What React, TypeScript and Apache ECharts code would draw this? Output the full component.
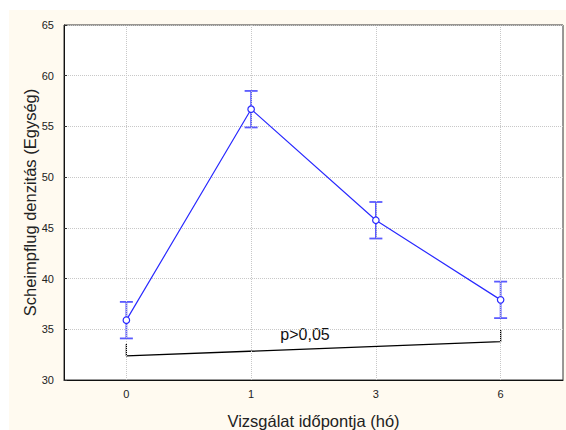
import React, { useEffect, useRef } from "react";
import * as echarts from "echarts";

const categories = ["0", "1", "3", "6"];
const means = [35.9, 56.7, 45.75, 37.9];
const errLow = [34.1, 54.9, 43.95, 36.1];
const errHigh = [37.7, 58.5, 47.55, 39.7];
// bracket polyline: [category index, value]
const bracket = [
  [0, 33.55],
  [0, 32.37],
  [3, 33.78],
  [3, 34.93],
];
const yMin = 30;
const yMax = 65;
const yInterval = 5;
const annotation = "p>0,05";
const xName = "Vizsgálat időpontja (hó)";
const yName = "Scheimpflug denzitás (Egység)";

const FONT = "'Liberation Sans', Arial, sans-serif";
const BLUE = "#2a2aff";
const ERR_BLUE = "#5a5aff";
const GRID_GRAY = "#c8c8c8";

export default function App() {
  const ref = useRef<HTMLDivElement>(null);
  useEffect(() => {
    if (!ref.current) return;
    const chart = echarts.init(ref.current, null, { renderer: "svg" });
    chart.setOption({
      animation: false,
      backgroundColor: "#fffaf0",
      textStyle: { fontFamily: FONT },
      grid: {
        left: 55,
        top: 15,
        right: 3,
        bottom: 50,
        outerBoundsMode: "none",
        containLabel: false,
        show: true,
        backgroundColor: "#ffffff",
        borderColor: "#333333",
        borderWidth: 1,
      },
      xAxis: {
        type: "category",
        data: categories,
        boundaryGap: true,
        name: xName,
        nameLocation: "middle",
        nameGap: 32,
        nameMoveOverlap: false,
        nameTextStyle: { fontSize: 16.5, color: "#222", fontFamily: FONT },
        axisLine: { lineStyle: { color: "#111", width: 1 } },
        axisTick: { inside: true, length: 3, alignWithLabel: true, lineStyle: { color: "#333" } },
        axisLabel: { fontSize: 11, color: "#222", margin: 8, fontFamily: FONT },
        splitLine: { show: false },
      },
      yAxis: {
        type: "value",
        min: yMin,
        max: yMax,
        interval: yInterval,
        name: yName,
        nameLocation: "middle",
        nameGap: 26,
        nameMoveOverlap: false,
        nameTextStyle: { fontSize: 16.5, color: "#222", fontFamily: FONT },
        axisLine: { show: true, lineStyle: { color: "#111", width: 1 } },
        axisTick: { show: true, inside: true, length: 3, lineStyle: { color: "#333" } },
        axisLabel: { fontSize: 11, color: "#222", margin: 10, fontFamily: FONT },
        splitLine: { show: true, lineStyle: { type: "dotted", color: GRID_GRAY, width: 1 } },
      },
      series: [
        {
          type: "line",
          data: [],
          z: 1,
          silent: true,
          markLine: {
            silent: true,
            symbol: "none",
            label: { show: false },
            lineStyle: { type: "dotted", color: GRID_GRAY, width: 1 },
            data: categories.map((c) => ({ xAxis: c })),
          },
        },
        {
          type: "line",
          data: bracket,
          z: 3,
          symbol: "none",
          silent: true,
          lineStyle: { color: "#000", width: 1.3 },
        },
        {
          type: "custom",
          z: 4,
          silent: true,
          data: categories.map((c, i) => [i, errLow[i], errHigh[i]]),
          encode: { x: 0, y: [1, 2] },
          renderItem: (params: any, api: any) => {
            const x = api.value(0);
            const lo = api.coord([x, api.value(1)]);
            const hi = api.coord([x, api.value(2)]);
            const hw = 6.5;
            const style = { stroke: ERR_BLUE, lineWidth: 1.8 };
            return {
              type: "group",
              children: [
                { type: "line", shape: { x1: hi[0], y1: hi[1], x2: lo[0], y2: lo[1] }, style },
                { type: "line", shape: { x1: hi[0] - hw, y1: hi[1], x2: hi[0] + hw, y2: hi[1] }, style },
                { type: "line", shape: { x1: lo[0] - hw, y1: lo[1], x2: lo[0] + hw, y2: lo[1] }, style },
              ],
            };
          },
        },
        {
          type: "line",
          data: means,
          z: 5,
          symbol: "circle",
          symbolSize: 6.5,
          lineStyle: { color: BLUE, width: 1.2 },
          itemStyle: { color: "#ffffff", borderColor: BLUE, borderWidth: 1.2 },
        },
      ],
      graphic: [
        {
          type: "text",
          x: 296,
          y: 324,
          style: {
            text: annotation,
            fill: "#111",
            font: `16px ${FONT}`,
            textAlign: "center",
            textVerticalAlign: "middle",
          },
        },
      ],
    });
    return () => chart.dispose();
  }, []);
  return (
    <div
      ref={ref}
      style={{ position: "absolute", left: 9, top: 10, width: 557, height: 420 }}
    />
  );
}
